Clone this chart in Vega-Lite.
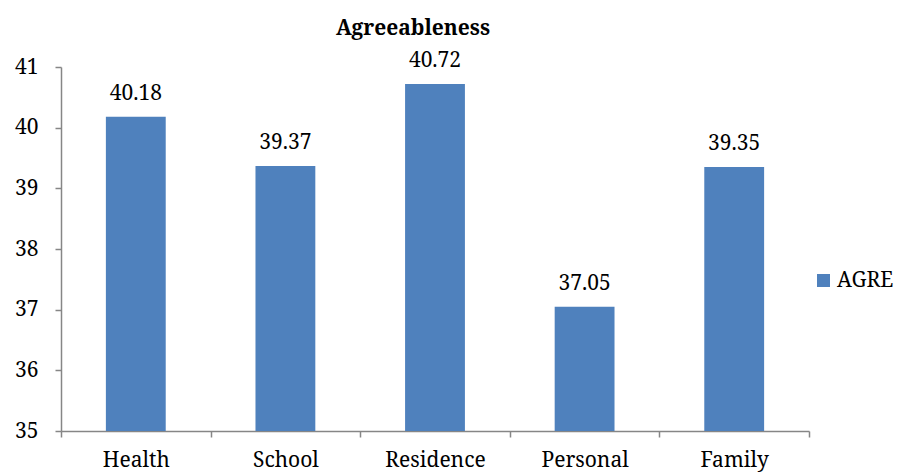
{
  "$schema": "https://vega.github.io/schema/vega-lite/v6.json",
  "autosize": "none",
  "width": 748,
  "height": 364,
  "padding": {"left": 61, "top": 67, "right": 97, "bottom": 43},
  "background": "white",
  "config": {
    "font": "Noto Serif",
    "view": {"stroke": null},
    "axis": {"grid": false, "domainColor": "#868686", "tickColor": "#868686", "domainWidth": 1.5, "tickWidth": 1.5, "labelColor": "black", "labelFont": "Noto Serif", "labelFontSize": 21},
    "legend": {"labelFont": "Noto Serif"}
  },
  "title": {
    "text": "Agreeableness",
    "font": "Noto Serif",
    "fontSize": 21,
    "fontWeight": "bold",
    "color": "black",
    "anchor": "middle",
    "frame": "group",
    "dx": -22,
    "dy": 31,
    "baseline": "alphabetic",
    "offset": 25
  },
  "data": {
    "values": [
      {"category": "Health", "series": "AGRE", "score": 40.18},
      {"category": "School", "series": "AGRE", "score": 39.37},
      {"category": "Residence", "series": "AGRE", "score": 40.72},
      {"category": "Personal", "series": "AGRE", "score": 37.05},
      {"category": "Family", "series": "AGRE", "score": 39.35}
    ]
  },
  "encoding": {
    "x": {
      "field": "category",
      "type": "nominal",
      "sort": null,
      "title": null,
      "scale": {"paddingInner": 0, "paddingOuter": 0},
      "axis": {"labelAngle": 0, "tickBand": "extent", "tickSize": 6, "labelPadding": 12}
    },
    "y": {
      "field": "score",
      "type": "quantitative",
      "title": null,
      "scale": {"domain": [35, 41], "zero": false, "nice": false},
      "axis": {"values": [35, 36, 37, 38, 39, 40, 41], "tickSize": 6, "labelPadding": 17, "labelFlush": false}
    }
  },
  "layer": [
    {
      "mark": {"type": "bar", "clip": true, "width": {"band": 0.4}},
      "encoding": {
        "y2": {"datum": 35},
        "color": {
          "field": "series",
          "type": "nominal",
          "scale": {"range": ["#4F81BD"]},
          "legend": {
            "title": null,
            "orient": "none",
            "legendX": 752,
            "legendY": 203,
            "symbolType": "square",
            "symbolSize": 169,
            "symbolStrokeWidth": 0,
            "labelFontSize": 21,
            "labelColor": "black",
            "labelOffset": 3
          }
        }
      }
    },
    {
      "mark": {"type": "text", "baseline": "alphabetic", "dy": -17, "fontSize": 21, "color": "black", "font": "Noto Serif"},
      "encoding": {
        "text": {"field": "score", "type": "quantitative", "format": ".2f"}
      }
    }
  ]
}
